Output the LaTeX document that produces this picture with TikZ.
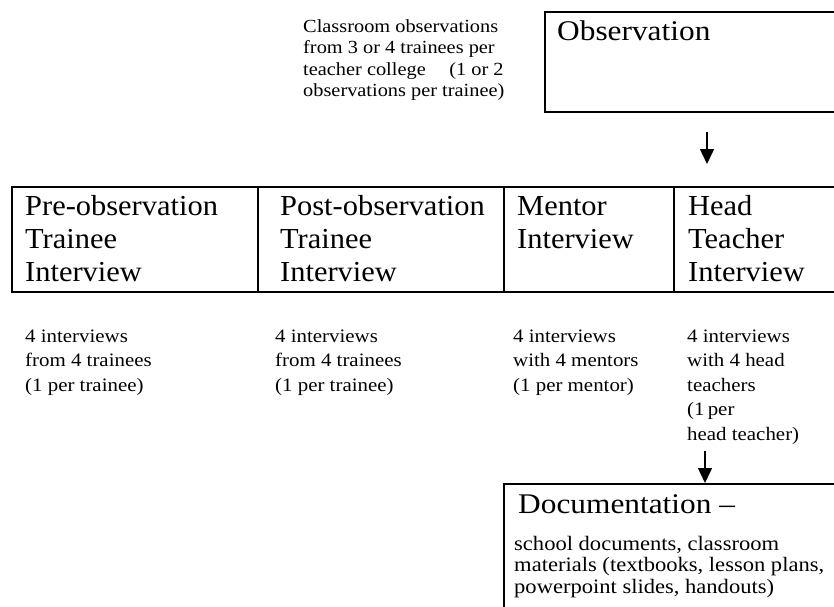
\documentclass[tikz,border=0pt]{standalone}
\usepackage{fontspec}
\setmainfont{Liberation Serif}[FakeStretch=1.1]
\newfontfamily\hdrfont{Liberation Serif}[FakeStretch=1.05]
\usetikzlibrary{arrows.meta}
\tikzset{
  boxshape/.style={draw, line width=1.6pt, inner sep=0pt, anchor=north west},
  hdr/.style={font=\hdrfont\fontsize{29}{33.3}\selectfont, align=left, anchor=base west, inner sep=0pt},
  ttl/.style={font=\fontsize{28.5}{33}\selectfont, align=left, anchor=base west, inner sep=0pt},
  small/.style={font=\fontsize{19}{24.5}\selectfont, align=left, anchor=base west, inner sep=0pt},
  smalltight/.style={font=\fontsize{18.5}{21.6}\selectfont, align=left, anchor=base west, inner sep=0pt},
  docsmall/.style={font=\fontsize{20.5}{21.6}\selectfont, align=left, anchor=base west, inner sep=0pt},
  arr/.style={-{Triangle[length=15pt,width=14pt]}, line width=1.5pt}
}
\begin{document}
\begin{tikzpicture}[x=1pt,y=-1pt]
\useasboundingbox (0,0) rectangle (834,606);
\clip (0,0) rectangle (834,606);
% boxes
\node[boxshape, minimum width=400pt, minimum height=100pt] (obs) at (544,11) {};
\node[boxshape, minimum width=246pt, minimum height=105pt] (pre) at (11,186) {};
\node[boxshape, minimum width=246pt, minimum height=105pt] (post) at (257,186) {};
\node[boxshape, minimum width=170pt, minimum height=105pt] (ment) at (503,186) {};
\node[boxshape, minimum width=300pt, minimum height=105pt] (head) at (673,186) {};
\node[boxshape, minimum width=400pt, minimum height=200pt] (doc) at (503,483) {};
% texts (anchored at the baseline of the last line)
\node[smalltight] (cls) at (303,96.8) {Classroom observations\\from 3 or 4 trainees per\\teacher college\quad\ (1 or 2\\observations per trainee)};
\node[ttl] (obst) at (557,40) {Observation};
\node[hdr] (pret) at (25,281.6) {Pre-observation\\Trainee\\Interview};
\node[hdr] (postt) at (280,281.6) {Post-observation\\Trainee\\Interview};
\node[hdr] (mentt) at (517,248.3) {Mentor\\Interview};
\node[hdr] (headt) at (688,281.6) {Head\\Teacher\\Interview};
\node[small] (pres) at (25,391) {4 interviews\\from 4 trainees\\(1 per trainee)};
\node[small] (posts) at (275,391) {4 interviews\\from 4 trainees\\(1 per trainee)};
\node[small] (ments) at (513,391) {4 interviews\\with 4 mentors\\(1 per mentor)};
\node[small] (heads) at (687,440) {4 interviews\\with 4 head\\teachers\\(1\,per\\head teacher)};
\node[ttl] (doct) at (518,513) {Documentation --};
\node[docsmall] (docs) at (514,593.2) {school documents, classroom\\materials (textbooks, lesson plans,\\powerpoint slides, handouts)};
% connectors
\coordinate (a1s) at (707,132);
\coordinate (a1e) at (707,164);
\coordinate (a2s) at (705,451);
\coordinate (a2e) at (705,483);
\draw[arr] (a1s) -- (a1e);
\draw[arr] (a2s) -- (a2e);
\end{tikzpicture}
\end{document}
